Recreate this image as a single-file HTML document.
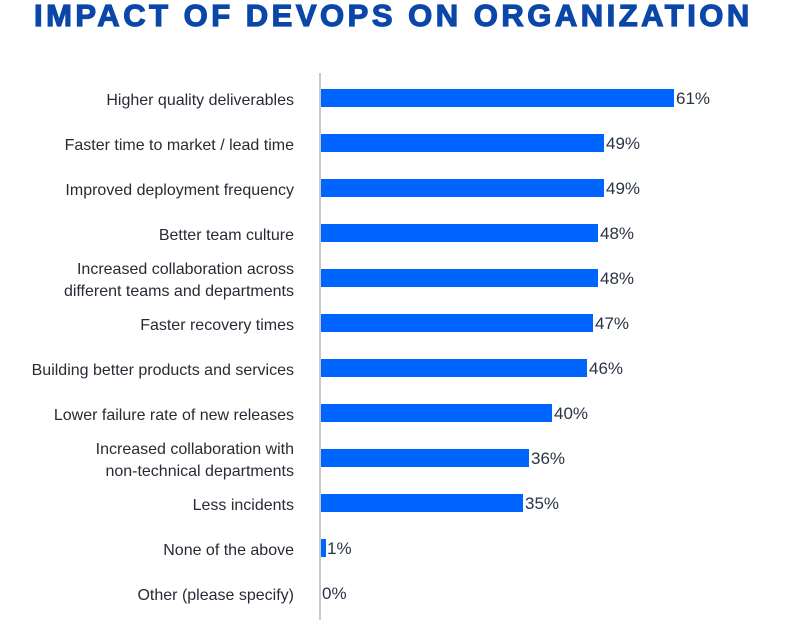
<!DOCTYPE html>
<html><head><meta charset="utf-8"><style>
html,body{margin:0;padding:0;width:804px;height:620px;background:#fff;overflow:hidden;font-family:"Liberation Sans",sans-serif;}
.t{position:absolute;left:34px;top:-2px;width:740px;font-size:31px;font-weight:900;color:#0a47a8;letter-spacing:3.5px;white-space:nowrap;-webkit-text-stroke:1.2px #0a47a8;}
.ax{position:absolute;left:319px;top:73px;width:2px;height:547px;background:#c8c8c8;}
.r{position:absolute;left:0;width:804px;height:40px;}
.l{position:absolute;right:510px;top:3px;height:40px;display:flex;align-items:center;justify-content:flex-end;text-align:right;font-size:16px;line-height:22px;color:#2a2a35;white-space:nowrap;}
.b{position:absolute;left:321px;top:11px;height:18px;background:#0065ff;}
.v{position:absolute;top:11px;font-size:17px;color:#2a3345;}
</style></head><body>
<div class="t">IMPACT OF DEVOPS ON ORGANIZATION</div>
<div class="ax"></div>
<div class="r" style="top:78px"><div class="l">Higher quality deliverables</div><div class="b" style="width:353px"></div><div class="v" style="left:676px">61%</div></div>
<div class="r" style="top:123px"><div class="l">Faster time to market / lead time</div><div class="b" style="width:283px"></div><div class="v" style="left:606px">49%</div></div>
<div class="r" style="top:168px"><div class="l">Improved deployment frequency</div><div class="b" style="width:283px"></div><div class="v" style="left:606px">49%</div></div>
<div class="r" style="top:213px"><div class="l">Better team culture</div><div class="b" style="width:277px"></div><div class="v" style="left:600px">48%</div></div>
<div class="r" style="top:258px"><div class="l">Increased collaboration across<br>different teams and departments</div><div class="b" style="width:277px"></div><div class="v" style="left:600px">48%</div></div>
<div class="r" style="top:303px"><div class="l">Faster recovery times</div><div class="b" style="width:272px"></div><div class="v" style="left:595px">47%</div></div>
<div class="r" style="top:348px"><div class="l">Building better products and services</div><div class="b" style="width:266px"></div><div class="v" style="left:589px">46%</div></div>
<div class="r" style="top:393px"><div class="l">Lower failure rate of new releases</div><div class="b" style="width:231px"></div><div class="v" style="left:554px">40%</div></div>
<div class="r" style="top:438px"><div class="l">Increased collaboration with<br>non-technical departments</div><div class="b" style="width:208px"></div><div class="v" style="left:531px">36%</div></div>
<div class="r" style="top:483px"><div class="l">Less incidents</div><div class="b" style="width:202px"></div><div class="v" style="left:525px">35%</div></div>
<div class="r" style="top:528px"><div class="l">None of the above</div><div class="b" style="width:5px"></div><div class="v" style="left:327px">1%</div></div>
<div class="r" style="top:573px"><div class="l">Other (please specify)</div><div class="v" style="left:322px">0%</div></div>
</body></html>
